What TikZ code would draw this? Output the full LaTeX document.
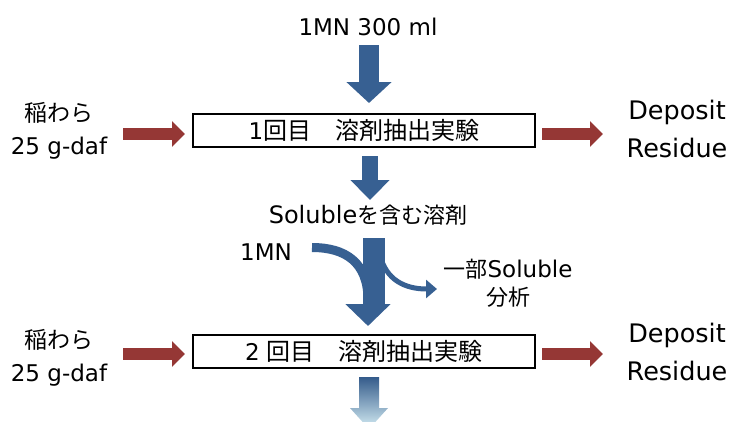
\documentclass[tikz,border=0pt]{standalone}
\usepackage{fontspec}
\setmainfont{DejaVu Sans}
\newfontfamily\jp{Noto Sans CJK JP}
\usetikzlibrary{arrows.meta}
\definecolor{pblue}{HTML}{376092}
\definecolor{pred}{HTML}{953735}
\definecolor{plight}{HTML}{D6EEF5}
\newcommand\fs[2]{\fontsize{#1}{#2}\selectfont}
\begin{document}
\begin{tikzpicture}[x=1pt,y=-1pt,
  box/.style={draw=black,line width=2pt,minimum width=342pt,minimum height=33pt,inner sep=0pt,font=\fs{23}{28}},
  lbl/.style={inner sep=0pt,align=center,font=\fs{23}{28}},
  bigblue/.style={draw=pblue,line width=20pt,-{Triangle[width=44pt,length=21pt]}},
  midblue/.style={draw=pblue,line width=16pt,-{Triangle[width=38pt,length=20pt]}},
  curveblue/.style={draw=pblue,line width=9pt,-{Triangle[width=44pt,length=22pt]}},
  thinblue/.style={draw=pblue,line width=5pt,-{Triangle[width=18pt,length=11pt]}},
  redarrow/.style={draw=pred,line width=12pt,-{Triangle[width=25pt,length=13pt]}}
]
\useasboundingbox (0,0) rectangle (730,421);
\fill[white] (0,0) rectangle (730,421);

% boxes
\node[box] (b1) at (364,130) {1{\jp\fs{24}{28}回目　溶剤抽出実験}};
\node[box] (b2) at (364,351.5) {2 {\jp\fs{24}{28}回目　溶剤抽出実験}};

% labels
\node[lbl] (t1) at (368,27) {1MN 300 ml};
\node[lbl,font=\fs{24}{28}] (sol) at (368,215) {Soluble{\jp\fs{22}{28}を含む溶剤}};
\node[lbl] (mn) at (266,252) {1MN};
\node[lbl] (part) at (508,283) {{\jp\fs{22}{28}一部}Soluble\\{\jp\fs{22}{28}分析}};
\node[lbl,font=\fs{23}{33}] (in1) at (59,131) {{\jp\fs{23}{33}稲わら}\\25 g-daf};
\node[lbl,font=\fs{23}{33}] (in2) at (59,358) {{\jp\fs{23}{33}稲わら}\\25 g-daf};
\node[lbl,font=\fs{25.5}{38}] (out1) at (677,129) {Deposit\\Residue};
\node[lbl,font=\fs{25.5}{38}] (out2) at (677,352) {Deposit\\Residue};

% coordinates
\coordinate (a1s) at (369,45);
\coordinate (a1e) at (369,103);
\coordinate (a2s) at (370,156);
\coordinate (a2e) at (370,200);
\coordinate (cs) at (312,247.5);
\coordinate (ce) at (368,326);
\coordinate (bs) at (380,255);
\coordinate (be) at (437,289);
\coordinate (l1s) at (123,134);
\coordinate (l1e) at (185,134);
\coordinate (r1s) at (542,134);
\coordinate (r1e) at (603,134);
\coordinate (l2s) at (123,354);
\coordinate (l2e) at (185,354);
\coordinate (r2s) at (542,354);
\coordinate (r2e) at (603,354);

% blue arrows
\draw[bigblue] (a1s) -- (a1e);
\draw[midblue] (a2s) -- (a2e);
\draw[curveblue] (cs) .. controls (345,247.5) and (368,262) .. (368,300) -- (ce);
\fill[pblue] (363,238) rectangle (385,305);
\draw[thinblue] (bs) .. controls (386,280) and (405,289) .. (be);

% gradient arrow
\begin{scope}
\clip (0,0) rectangle (730,421);
\shade[top color=pblue!95!black,bottom color=plight]
  (359,377) -- (379,377) -- (379,408) -- (388,408) -- (369,429) -- (350,408) -- (359,408) -- cycle;
\end{scope}

% red arrows
\draw[redarrow] (l1s) -- (l1e);
\draw[redarrow] (r1s) -- (r1e);
\draw[redarrow] (l2s) -- (l2e);
\draw[redarrow] (r2s) -- (r2e);
\end{tikzpicture}
\end{document}
